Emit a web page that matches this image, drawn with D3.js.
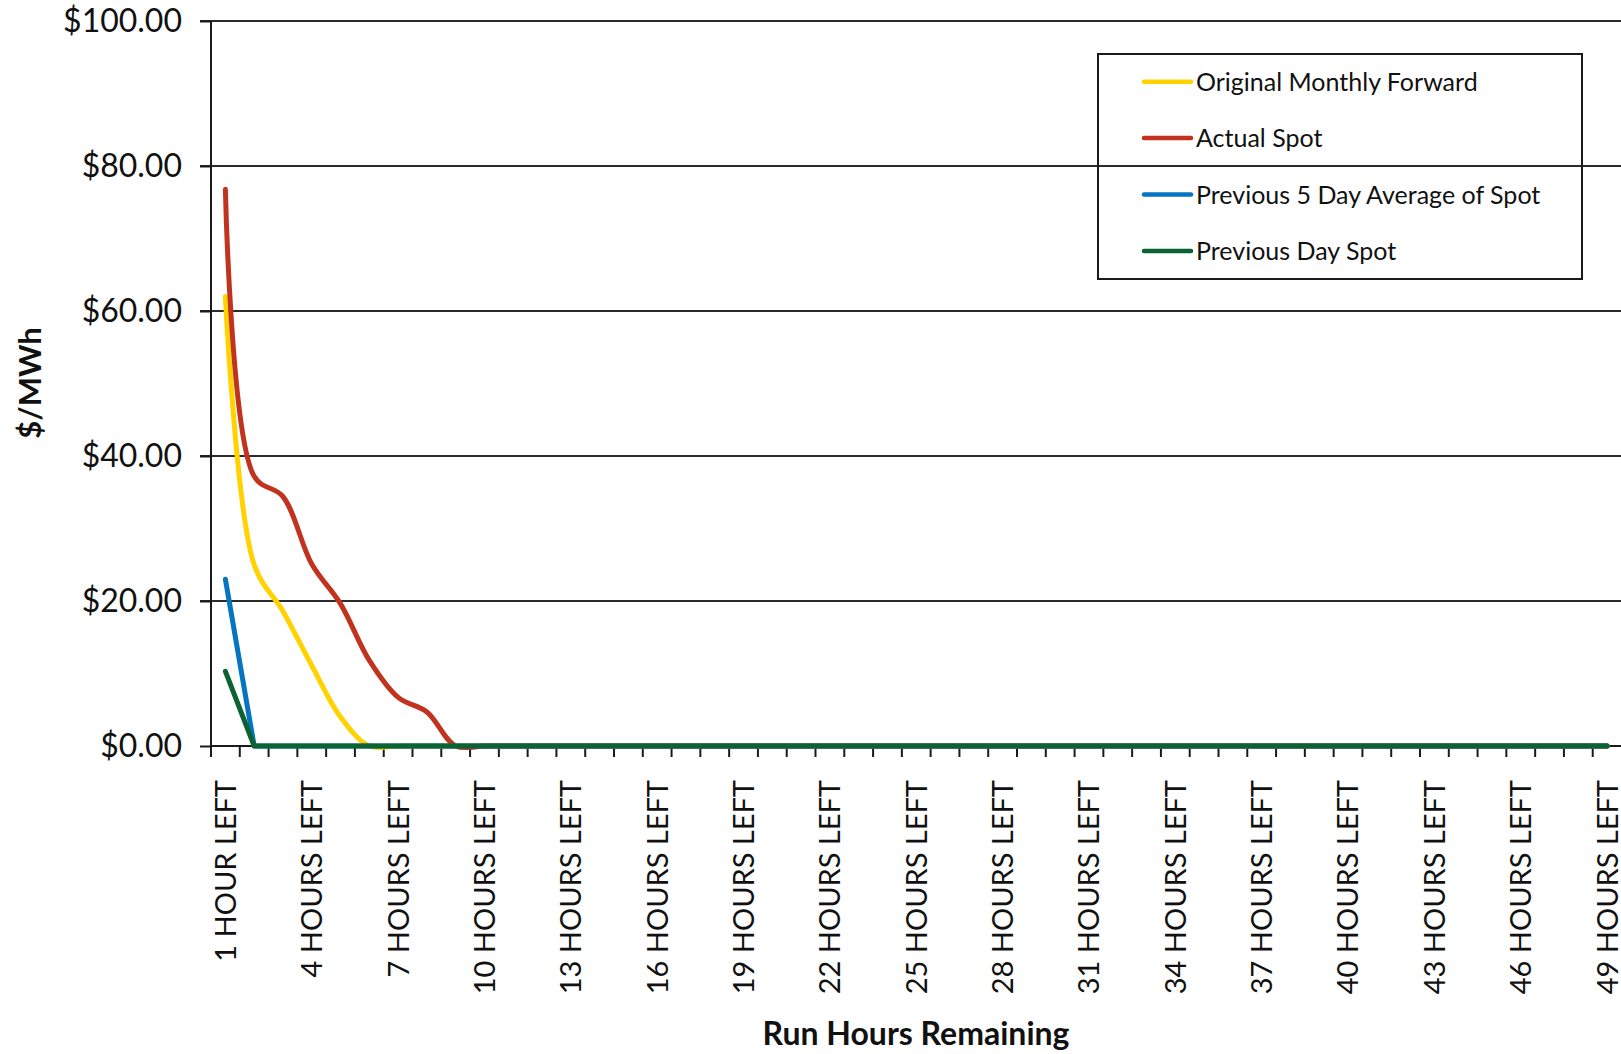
<!DOCTYPE html>
<html lang="en">
<head>
<meta charset="UTF-8">
<title>Run Hours Remaining</title>
<script src="https://cdn.jsdelivr.net/npm/d3@7"></script>
<style>
  body { margin: 0; background: #fff; }
  svg { display: block; font-family: Lato, "Open Sans", sans-serif; }
</style>
</head>
<body>
<script>
// hours left, one category per hour
const hours = [1, 2, 3, 4, 5, 6, 7, 8, 9, 10, 11, 12, 13, 14, 15, 16, 17, 18, 19, 20,
  21, 22, 23, 24, 25, 26, 27, 28, 29, 30, 31, 32, 33, 34, 35, 36, 37, 38, 39, 40,
  41, 42, 43, 44, 45, 46, 47, 48, 49];
const categories = hours.map(h => h === 1 ? '1 HOUR LEFT' : h + ' HOURS LEFT');
// only every third label is shown
const labelHours = [1, 4, 7, 10, 13, 16, 19, 22, 25, 28, 31, 34, 37, 40, 43, 46, 49];
const yTicks = [0, 20, 40, 60, 80, 100];

// $/MWh values
const monthlyForward = [62.0, 25.0, 18.6, 11.1, 4.0, 0, 0, 0, 0, 0,
  0, 0, 0, 0, 0, 0, 0, 0, 0, 0, 0, 0, 0, 0, 0, 0, 0, 0, 0, 0,
  0, 0, 0, 0, 0, 0, 0, 0, 0, 0, 0, 0, 0, 0, 0, 0, 0, 0, 0];
const actualSpot = [76.8, 37.2, 34.4, 25.1, 19.6, 11.8, 6.7, 4.7, 0, 0,
  0, 0, 0, 0, 0, 0, 0, 0, 0, 0, 0, 0, 0, 0, 0, 0, 0, 0, 0, 0,
  0, 0, 0, 0, 0, 0, 0, 0, 0, 0, 0, 0, 0, 0, 0, 0, 0, 0, 0];
const fiveDayAvg = [23.0, 0, 0, 0, 0, 0, 0, 0, 0, 0,
  0, 0, 0, 0, 0, 0, 0, 0, 0, 0, 0, 0, 0, 0, 0, 0, 0, 0, 0, 0,
  0, 0, 0, 0, 0, 0, 0, 0, 0, 0, 0, 0, 0, 0, 0, 0, 0, 0, 0];
const previousDay = [10.3, 0, 0, 0, 0, 0, 0, 0, 0, 0,
  0, 0, 0, 0, 0, 0, 0, 0, 0, 0, 0, 0, 0, 0, 0, 0, 0, 0, 0, 0,
  0, 0, 0, 0, 0, 0, 0, 0, 0, 0, 0, 0, 0, 0, 0, 0, 0, 0, 0];

const seriesNames = ['Original Monthly Forward', 'Actual Spot',
  'Previous 5 Day Average of Spot', 'Previous Day Spot'];
const seriesColors = ['#FFD200', '#C1331F', '#0574C1', '#0B6232'];
const seriesValues = [monthlyForward, actualSpot, fiveDayAvg, previousDay];
const seriesSmooth = [true, true, false, false];

const w = 1621, h = 1054;
const plotLeft = 211, plotRight = 1621.5, plotTop = 21, plotBottom = 746;

let svg = d3.select('body').append('svg')
  .attr('width', w)
  .attr('height', h);

let x = d3.scaleBand().domain(categories).range([plotLeft, plotRight]);
let y = d3.scaleLinear().domain([0, 100]).range([plotBottom, plotTop]);
const cx = c => x(c) + x.bandwidth() / 2;

// horizontal gridlines
svg.append('g').selectAll('line')
  .data(yTicks.filter(d => d > 0))
  .enter().append('line')
  .attr('x1', 200).attr('x2', w)
  .attr('y1', d => y(d)).attr('y2', d => y(d))
  .attr('stroke', '#2b2b2b').attr('stroke-width', 2);

// y axis
let yAxis = svg.append('g')
  .attr('transform', `translate(${plotLeft},0)`)
  .call(d3.axisLeft(y).tickValues(yTicks).tickSize(11).tickPadding(18)
    .tickFormat(d3.format('$.2f')));
yAxis.select('.domain').remove();
yAxis.selectAll('.tick line').attr('stroke', '#1a1a1a').attr('stroke-width', 2);
yAxis.selectAll('.tick text')
  .attr('font-family', 'Lato, sans-serif')
  .attr('font-size', 32)
  .attr('fill', '#111');
svg.append('line')
  .attr('x1', plotLeft).attr('x2', plotLeft)
  .attr('y1', plotTop).attr('y2', plotBottom + 11)
  .attr('stroke', '#1a1a1a').attr('stroke-width', 2);

// x axis line, tick marks at category boundaries
svg.append('line')
  .attr('x1', plotLeft).attr('x2', w)
  .attr('y1', plotBottom).attr('y2', plotBottom)
  .attr('stroke', '#1a1a1a').attr('stroke-width', 2);
svg.append('g').selectAll('line')
  .data(categories)
  .enter().append('line')
  .attr('x1', d => x(d)).attr('x2', d => x(d))
  .attr('y1', plotBottom).attr('y2', plotBottom + 11)
  .attr('stroke', '#1a1a1a').attr('stroke-width', 2);

// rotated category labels
svg.append('g').selectAll('text')
  .data(labelHours.map(hh => categories[hours.indexOf(hh)]))
  .enter().append('text')
  .attr('transform', d => `translate(${cx(d)},780) rotate(-90)`)
  .attr('dy', '0.36em')
  .attr('text-anchor', 'end')
  .attr('font-size', 29)
  .attr('fill', '#111')
  .text(d => d);

// lines: forward and spot are smoothed, the two "previous" series are straight
let smoothLine = d3.line()
  .x((d, i) => cx(categories[i]))
  .y(d => y(d))
  .curve(d3.curveCatmullRom.alpha(0.5));
let straightLine = d3.line()
  .x((d, i) => cx(categories[i]))
  .y(d => y(d));

svg.append('g').selectAll('path')
  .data(seriesValues)
  .enter().append('path')
  .attr('d', (d, i) => seriesSmooth[i] ? smoothLine(d) : straightLine(d))
  .attr('fill', 'none')
  .attr('stroke', (d, i) => seriesColors[i])
  .attr('stroke-width', 5)
  .attr('stroke-linecap', 'round')
  .attr('stroke-linejoin', 'round');

// axis titles
svg.append('text')
  .attr('transform', 'translate(41,383) rotate(-90)')
  .attr('text-anchor', 'middle')
  .attr('font-size', 31)
  .attr('font-weight', 'bold')
  .attr('fill', '#111')
  .text('$/MWh');

svg.append('text')
  .attr('x', 916).attr('y', 1045)
  .attr('text-anchor', 'middle')
  .attr('font-size', 32)
  .attr('font-weight', 'bold')
  .attr('fill', '#111')
  .text('Run Hours Remaining');

// legend
let legend = svg.append('g');
legend.append('rect')
  .attr('x', 1098).attr('y', 54)
  .attr('width', 484).attr('height', 225)
  .attr('fill', 'none')
  .attr('stroke', '#1a1a1a').attr('stroke-width', 2);

let items = legend.selectAll('g.item')
  .data(seriesNames)
  .enter().append('g')
  .attr('class', 'item')
  .attr('transform', (d, i) => `translate(0,${81.7 + i * 56.4})`);
items.append('line')
  .attr('x1', 1144).attr('x2', 1191)
  .attr('stroke', (d, i) => seriesColors[i])
  .attr('stroke-width', 4.5)
  .attr('stroke-linecap', 'round');
items.append('text')
  .attr('x', 1196).attr('y', 9)
  .attr('font-size', 25)
  .attr('fill', '#111')
  .text(d => d);
</script>
</body>
</html>
